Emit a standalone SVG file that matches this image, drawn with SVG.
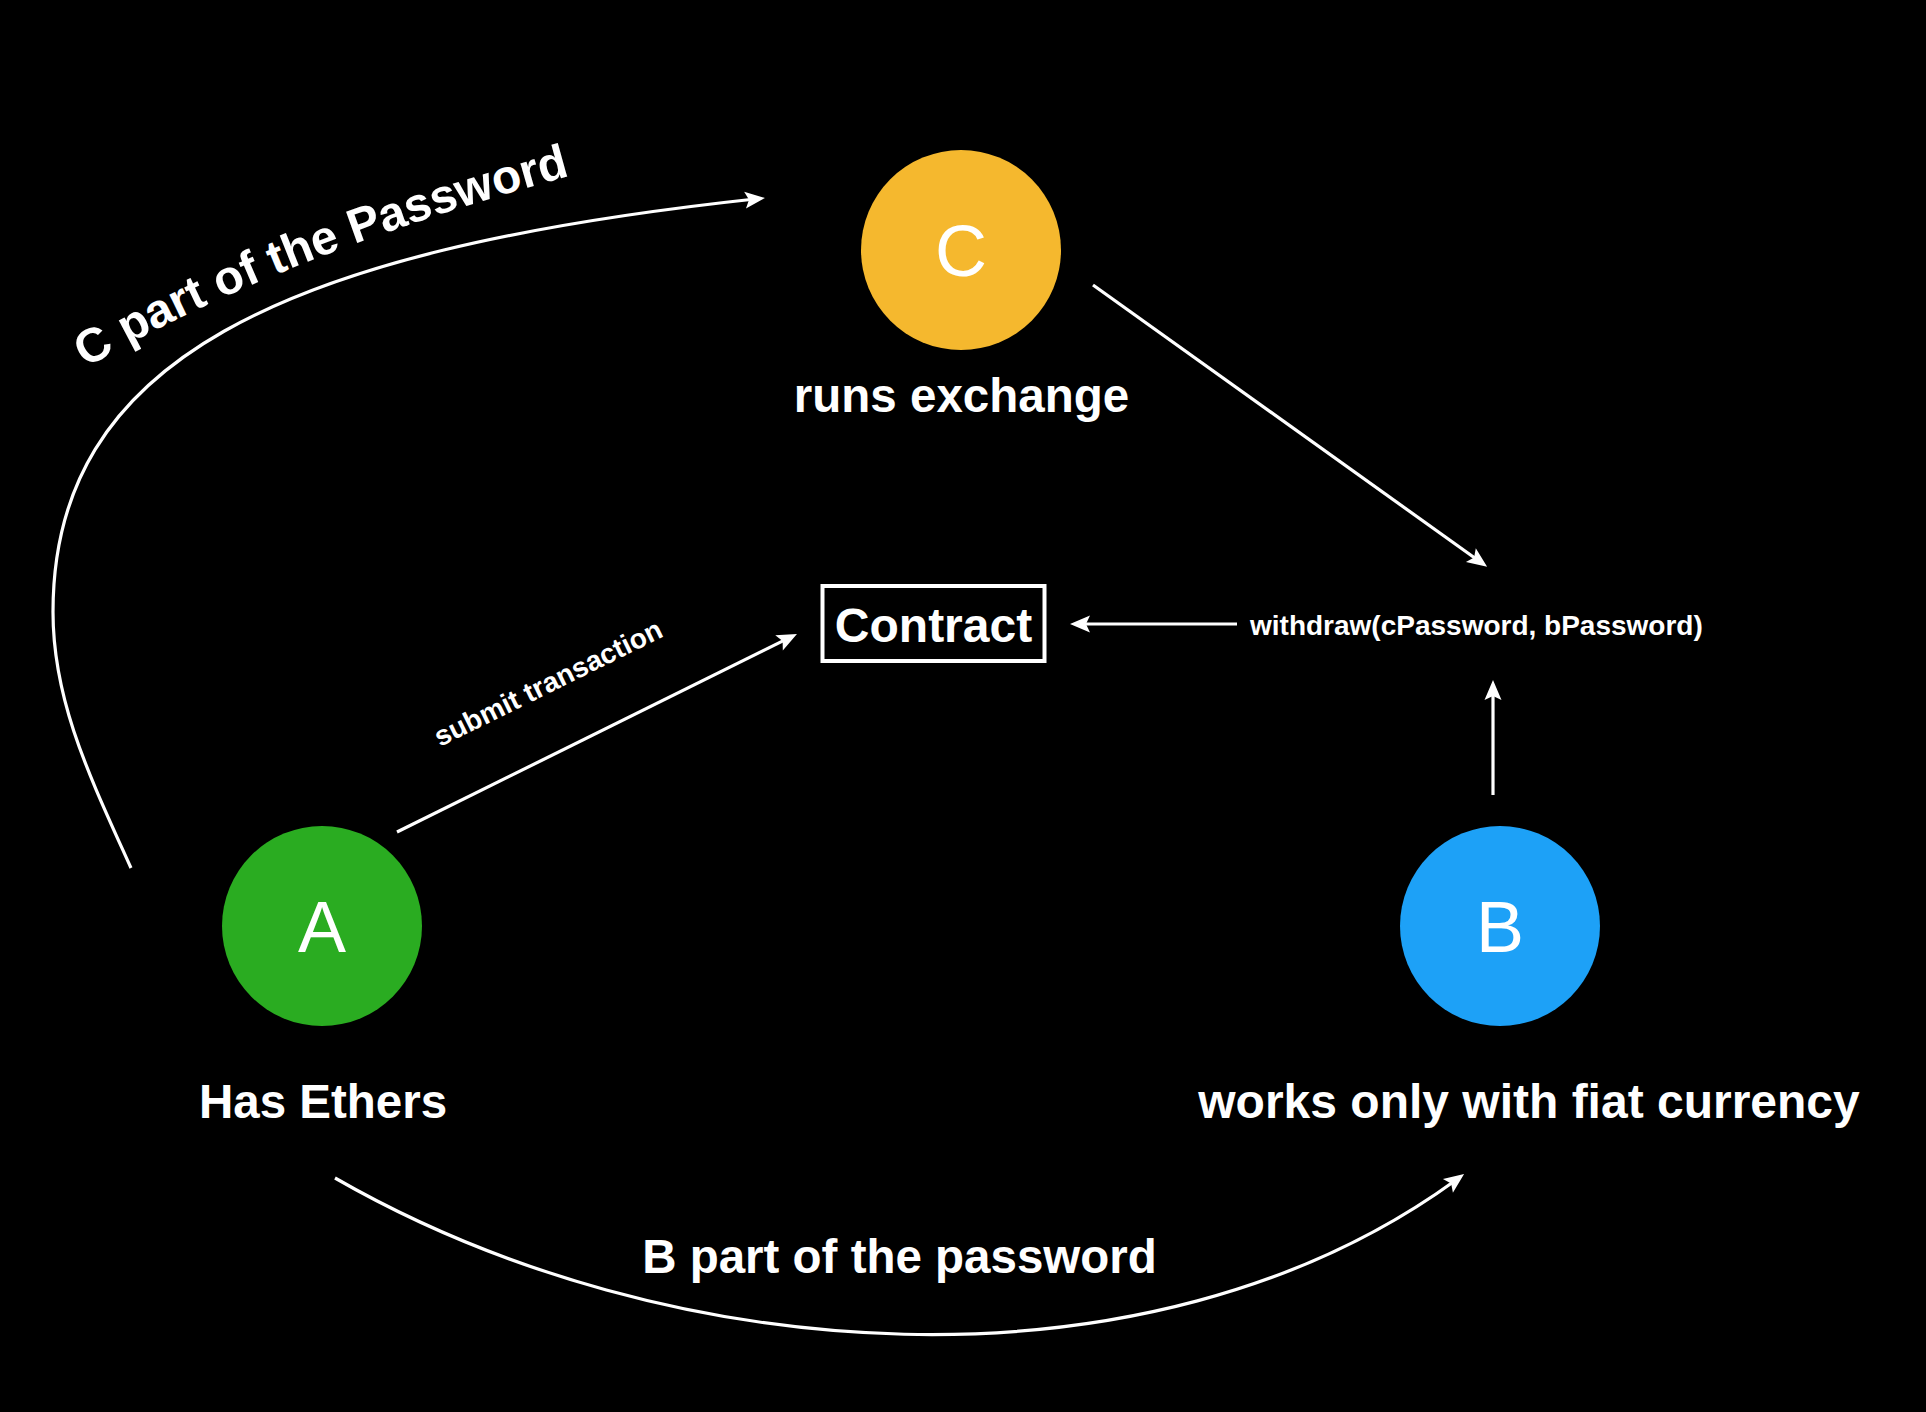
<svg xmlns="http://www.w3.org/2000/svg" width="1926" height="1412" viewBox="0 0 1926 1412">
  <style>
    .lbl { font-family: "Liberation Sans", Arial, Helvetica, sans-serif; font-weight: bold; fill: #ffffff; }
    .big { font-size: 47.5px; text-anchor: middle; }
    .small { font-size: 28px; }
    .letter { font-family: "Liberation Sans", Arial, Helvetica, sans-serif; font-size: 72px; fill: #ffffff; text-anchor: middle; }
    .conn { fill: none; stroke: #ffffff; stroke-width: 3.2; marker-end: url(#ah); }
  </style>
  <defs>
    <marker id="ah" markerUnits="userSpaceOnUse" viewBox="-12 -10 24 20" refX="0" refY="0" markerWidth="24" markerHeight="20" orient="auto">
      <path d="M10,0 L-10,-8.5 L-6,0 L-10,8.5 Z" fill="#ffffff"/>
    </marker>
    <path id="cpath" d="M86,368 Q288,250 592,170" fill="none"/>
  </defs>
  <rect x="0" y="0" width="1926" height="1412" fill="#000000"/>

  <g id="connectors">
    <path class="conn" d="M131,868 C90.5,778 53,702 53,612 C53,362 275,251 755,199"/>
    <path class="conn" d="M1093,285 L1479,561"/>
    <path class="conn" d="M1237,624 L1080,624"/>
    <path class="conn" d="M1493,795 L1493,690"/>
    <path class="conn" d="M397,832 L788,638.4"/>
    <path class="conn" d="M335,1178 C665.6,1368 1148,1404 1456,1180"/>
    <text class="lbl" style="font-size:48px"><textPath href="#cpath">C part of the Password</textPath></text>
    <text class="lbl small" transform="translate(440,747) rotate(-26.3)">submit transaction</text>
    <text class="lbl small" x="1250" y="635">withdraw(cPassword, bPassword)</text>
    <text class="lbl big" x="899.5" y="1273">B part of the password</text>
  </g>

  <g id="node-C">
    <circle cx="961" cy="250" r="100" fill="#F5B82E"/>
    <text class="letter" x="961" y="276">C</text>
    <text class="lbl big" x="961.5" y="412">runs exchange</text>
  </g>

  <g id="node-contract">
    <rect x="822.5" y="586" width="222" height="75" fill="none" stroke="#ffffff" stroke-width="4"/>
    <text class="lbl" x="933.5" y="642" style="font-size:48px" text-anchor="middle">Contract</text>
  </g>

  <g id="node-A">
    <circle cx="322" cy="926" r="100" fill="#2AAC21"/>
    <text class="letter" x="322" y="952">A</text>
    <text class="lbl big" x="323" y="1118">Has Ethers</text>
  </g>

  <g id="node-B">
    <circle cx="1500" cy="926" r="100" fill="#1DA1F7"/>
    <text class="letter" x="1500" y="952">B</text>
    <text class="lbl big" x="1529" y="1118" style="font-size:48px">works only with fiat currency</text>
  </g>
</svg>
